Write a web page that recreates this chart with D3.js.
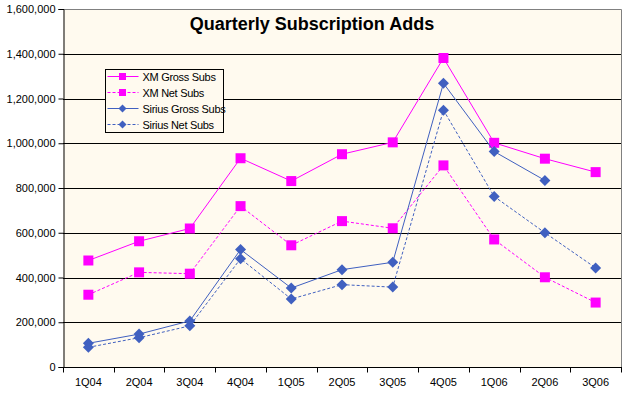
<!DOCTYPE html>
<html>
<head>
<meta charset="utf-8">
<script src="https://cdn.jsdelivr.net/npm/d3@7"></script>
<style>
  body { margin: 0; background: #fff; }
  svg { display: block; font-family: Arial, "Liberation Sans", sans-serif; }
</style>
</head>
<body>
<div id="div_chart"></div>
<script>
// Data
var quarters = ["1Q04", "2Q04", "3Q04", "4Q04", "1Q05", "2Q05", "3Q05", "4Q05", "1Q06", "2Q06", "3Q06"];
var xmGross = [476000, 562000, 619000, 933000, 831000, 951000, 1004000, 1381000, 1002000, 931000, 871000];
var xmNet = [323000, 423000, 417000, 719000, 544000, 652000, 620000, 901000, 570000, 401000, 288000];
var siriusGross = [106000, 147000, 206000, 525000, 353000, 435000, 468000, 1268000, 963000, 834000, null];
var siriusNet = [88000, 131000, 184000, 484000, 304000, 368000, 357000, 1148000, 762000, 600000, 443000];
var yTicks = [0, 200000, 400000, 600000, 800000, 1000000, 1200000, 1400000, 1600000];

var series = [
    {name: "XM Gross Subs", values: xmGross, color: "#FF00FF", dash: null, marker: "square"},
    {name: "XM Net Subs", values: xmNet, color: "#FF00FF", dash: "3,2", marker: "square"},
    {name: "Sirius Gross Subs", values: siriusGross, color: "#4060C0", dash: null, marker: "diamond"},
    {name: "Sirius Net Subs", values: siriusNet, color: "#4060C0", dash: "3,2", marker: "diamond"}
];

// Basic size information
var svgWidth = 624;
var svgHeight = 396;
var plot = {left: 63, right: 621, top: 9, bottom: 367};

var x = d3.scaleBand()
    .domain(quarters)
    .range([plot.left, plot.right]);

var y = d3.scaleLinear()
    .domain([0, 1600000])
    .range([plot.bottom, plot.top]);

var svg = d3.select("#div_chart")
    .append("svg")
        .attr("width", svgWidth)
        .attr("height", svgHeight);

// Plot background
svg.append("rect")
    .attr("x", plot.left)
    .attr("y", plot.top)
    .attr("width", plot.right - plot.left)
    .attr("height", plot.bottom - plot.top)
    .attr("fill", "#FFFAEF");

// Gridlines
svg.append("g")
    .selectAll("line")
    .data(yTicks.slice(1, -1))
    .join("line")
        .attr("x1", plot.left)
        .attr("x2", plot.right)
        .attr("y1", d => Math.round(y(d)) + 0.5)
        .attr("y2", d => Math.round(y(d)) + 0.5)
        .attr("stroke", "#000")
        .attr("stroke-width", 1);

// Top and right border of the plot area
svg.append("path")
    .attr("d", "M" + plot.left + "," + (plot.top + 0.5) + "H" + (plot.right + 0.5) + "V" + plot.bottom)
    .attr("fill", "none")
    .attr("stroke", "#808080");

// Y axis
var yAxis = svg.append("g")
    .attr("transform", "translate(" + (plot.left + 0.5) + ",0)")
    .call(d3.axisLeft(y).tickValues(yTicks).tickFormat(d3.format(",d")).tickSize(5).tickPadding(3));
yAxis.select(".domain").attr("stroke", "#000");
yAxis.selectAll(".tick line").attr("stroke", "#000");
yAxis.selectAll("text").attr("font-size", 11).attr("font-family", "Arial, 'Liberation Sans', sans-serif").attr("fill", "#000");

// X axis, ticks sit between categories
var xAxis = svg.append("g")
    .attr("transform", "translate(0," + (plot.bottom + 0.5) + ")");
xAxis.append("line")
    .attr("x1", plot.left)
    .attr("x2", plot.right + 1)
    .attr("stroke", "#000");
xAxis.selectAll(".xtick")
    .data(quarters.concat(["end"]))
    .join("line")
        .attr("class", "xtick")
        .attr("x1", (d, i) => Math.round(plot.left + i * x.step()) + 0.5)
        .attr("x2", (d, i) => Math.round(plot.left + i * x.step()) + 0.5)
        .attr("y1", 0)
        .attr("y2", 5)
        .attr("stroke", "#000");
xAxis.selectAll("text")
    .data(quarters)
    .join("text")
        .attr("x", d => x(d) + x.bandwidth() / 2)
        .attr("y", 18)
        .attr("text-anchor", "middle")
        .attr("font-size", 11)
        .text(d => d);

// Lines and markers
var line = d3.line()
    .defined(d => d.v != null)
    .x(d => x(d.q) + x.bandwidth() / 2)
    .y(d => y(d.v));

function markerPath(type, cx, cy, s) {
    if (type === "square") {
        return "M" + (cx - s) + "," + (cy - s) + "h" + (2 * s) + "v" + (2 * s) + "h" + (-2 * s) + "Z";
    }
    return "M" + cx + "," + (cy - s) + "L" + (cx + s) + "," + cy + "L" + cx + "," + (cy + s) + "L" + (cx - s) + "," + cy + "Z";
}

series.forEach(function(s) {
    var pts = quarters.map((q, i) => ({q: q, v: s.values[i]}));
    svg.append("path")
        .datum(pts)
        .attr("fill", "none")
        .attr("stroke", s.color)
        .attr("stroke-width", 1)
        .attr("stroke-dasharray", s.dash)
        .attr("d", line);
    svg.append("g")
        .selectAll("path")
        .data(pts.filter(d => d.v != null))
        .join("path")
            .attr("fill", s.color)
            .attr("d", d => markerPath(s.marker, x(d.q) + x.bandwidth() / 2, y(d.v), s.marker === "square" ? 5 : 5.5));
});

// Legend
var legend = svg.append("g")
    .attr("transform", "translate(105.5,69.5)");
legend.append("rect")
    .attr("width", 118)
    .attr("height", 63)
    .attr("fill", "#FFFAEF")
    .attr("stroke", "#000");
var item = legend.selectAll(".item")
    .data(series)
    .join("g")
        .attr("class", "item")
        .attr("transform", (d, i) => "translate(0," + (7 + i * 16) + ")");
item.append("line")
    .attr("x1", 2)
    .attr("x2", 33)
    .attr("stroke", d => d.color)
    .attr("stroke-dasharray", d => d.dash);
item.append("path")
    .attr("fill", d => d.color)
    .attr("d", d => markerPath(d.marker, 17, 0, d.marker === "square" ? 3.5 : 4));
item.append("text")
    .attr("x", 37)
    .attr("y", 4)
    .attr("font-size", 11)
    .attr("letter-spacing", -0.3)
    .text(d => d.name);

// Title
svg.append("text")
    .attr("x", 312)
    .attr("y", 30)
    .attr("text-anchor", "middle")
    .attr("font-size", 18)
    .attr("font-weight", "bold")
    .text("Quarterly Subscription Adds");
</script>
</body>
</html>
